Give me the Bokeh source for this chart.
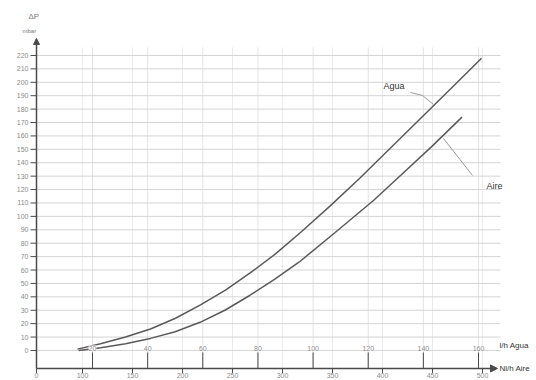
from bokeh.plotting import figure
from bokeh.models import Range1d, Arrow, NormalHead
from bokeh.core.properties import value
from bokeh.embed import file_html
from bokeh.resources import INLINE

# ---------------- data ----------------
water_flow_lh = [95, 118, 143, 168, 193, 218, 243, 268, 293, 318, 348, 378, 408, 438, 468, 499]
water_dp_mbar = [1, 5, 10, 16, 24, 34, 45, 58, 72, 88, 108, 129, 151, 173, 195, 218]

air_flow_nlh = [15, 23, 32, 41, 50, 59, 68, 77, 86, 95, 108, 122, 132, 143, 154]
air_dp_mbar = [0, 2, 5, 9, 14, 21, 30, 41, 53, 66, 88, 112, 131, 152, 174]

dp_ticks = [0, 10, 20, 30, 40, 50, 60, 70, 80, 90, 100, 110, 120, 130, 140,
            150, 160, 170, 180, 190, 200, 210, 220]
water_ticks = [100, 150, 200, 250, 300, 350, 400, 450, 500]
air_ticks = [20, 40, 60, 80, 100, 120, 140, 160]

# ---------------- layout constants ----------------
X0 = 54          # broken-axis origin (labelled "0") on the l/h scale
Y_AXIS = -13.4   # level of the horizontal axis line
FONT = value("Liberation Sans")
TICK_COLOR = "#8a8a8a"
AXIS_COLOR = "#4a4a4a"

p = figure(width=536, height=380,
           x_range=Range1d(18, 554), y_range=Range1d(-22.4, 261.0),
           x_axis_type=None, y_axis_type=None,
           toolbar_location=None, output_backend="svg", min_border=0)
p.extra_x_ranges = {"air": Range1d(-13.37, 181.03)}
p.outline_line_color = None
p.background_fill_color = "white"

# grid
p.segment(x0=water_ticks, x1=water_ticks, y0=Y_AXIS, y1=226,
          line_color="#ebebeb", line_width=1)
p.segment(x0=air_ticks, x1=air_ticks, y0=Y_AXIS, y1=226,
          line_color="#e2e2e2", line_width=1, x_range_name="air")
p.segment(x0=X0, x1=518, y0=dp_ticks, y1=dp_ticks,
          line_color="#d4d4d4", line_width=1)

# curves
p.line(water_flow_lh, water_dp_mbar, line_color="#5a5a5a", line_width=1.5)
p.line(air_flow_nlh, air_dp_mbar, line_color="#5a5a5a", line_width=1.5,
       x_range_name="air")

# axes with arrows
p.add_layout(Arrow(end=NormalHead(size=7, fill_color=AXIS_COLOR, line_color=AXIS_COLOR),
                   x_start=X0, y_start=Y_AXIS, x_end=515, y_end=Y_AXIS,
                   line_color=AXIS_COLOR, line_width=1.5))
p.add_layout(Arrow(end=NormalHead(size=6, fill_color=AXIS_COLOR, line_color=AXIS_COLOR),
                   x_start=X0, y_start=Y_AXIS, x_end=X0, y_end=232.7,
                   line_color=AXIS_COLOR, line_width=1.5))

# ticks
p.segment(x0=48, x1=X0, y0=dp_ticks, y1=dp_ticks, line_color=AXIS_COLOR, line_width=1)
p.segment(x0=[X0] + water_ticks, x1=[X0] + water_ticks, y0=Y_AXIS, y1=-16.8,
          line_color=AXIS_COLOR, line_width=1)
p.segment(x0=air_ticks, x1=air_ticks, y0=Y_AXIS, y1=-1.5,
          line_color=AXIS_COLOR, line_width=1, x_range_name="air")

# tick labels
p.text(x=46, y=dp_ticks, text=[str(v) for v in dp_ticks],
       text_align="right", text_baseline="middle", text_font_size="7px",
       text_color=TICK_COLOR, text_font=FONT)
p.text(x=[X0] + water_ticks, y=-19.0, text=["0"] + [str(v) for v in water_ticks],
       text_align="center", text_baseline="middle", text_font_size="7px",
       text_color=TICK_COLOR, text_font=FONT)
p.text(x=air_ticks, y=1.8, text=[str(v) for v in air_ticks],
       text_align="center", text_baseline="middle", text_font_size="7px",
       text_color=TICK_COLOR, text_font=FONT, x_range_name="air",
       background_fill_color="white")

# axis titles
p.text(x=[46], y=[249], text=["\u0394P"], text_align="left", text_baseline="middle",
       text_font_size="8px", text_color="#777777", text_font=FONT)
p.text(x=[40], y=[237.9], text=["mbar"], text_align="left", text_baseline="middle",
       text_font_size="6px", text_color="#777777", text_font=FONT)
p.text(x=[517, 517], y=[3.7, -13.4], text=["l/h Agua", "Nl/h Aire"],
       text_align="left", text_baseline="middle", text_font_size="8px",
       text_color="#333333", text_font=FONT)

# curve labels with leaders
p.text(x=[401], y=[196.9], text=["Agua"], text_align="left", text_baseline="middle",
       text_font_size="9px", text_color="#333333", text_font=FONT)
p.line([428, 440, 451], [192.4, 190.2, 183.4], line_color="#9a9a9a", line_width=1)
p.text(x=[504], y=[123], text=["Aire"], text_align="left", text_baseline="middle",
       text_font_size="9px", text_color="#333333", text_font=FONT)
p.line([461, 490], [158.1, 130.5], line_color="#9a9a9a", line_width=1)

open("out.html", "w").write(file_html(p, INLINE))
